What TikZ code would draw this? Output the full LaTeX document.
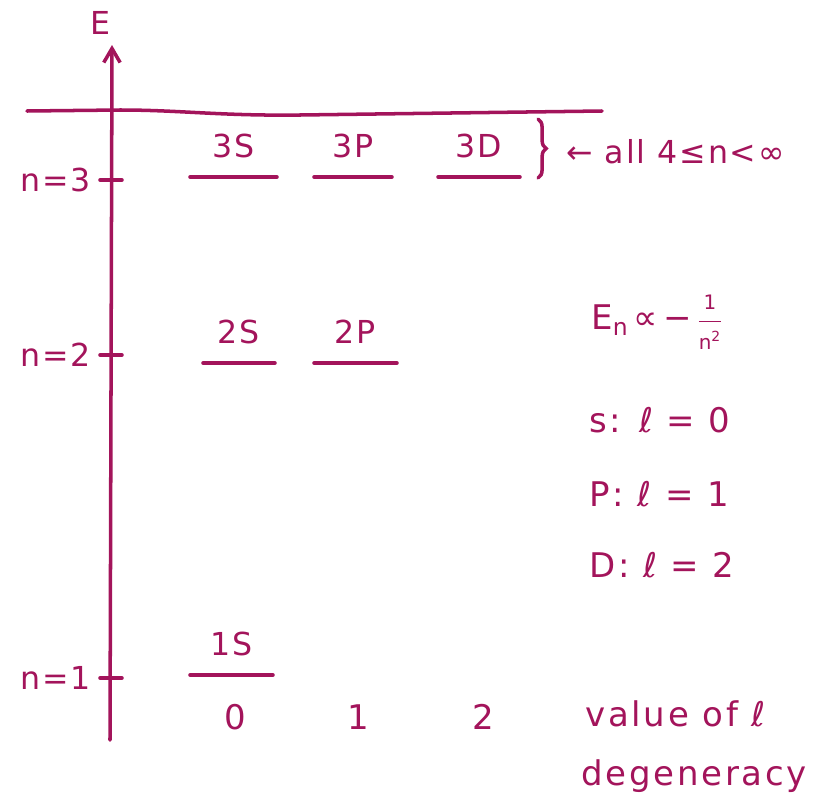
\documentclass[tikz,border=0pt]{standalone}
\usepackage{fontspec}
\usepackage{amsmath}
\setmainfont{DejaVu Sans}
\usetikzlibrary{arrows.meta,decorations.pathreplacing}
\begin{document}
\begin{tikzpicture}[x=0.03cm,y=-0.03cm,font=\fontsize{27}{31}\selectfont\addfontfeature{LetterSpace=6}]
\definecolor{ink}{HTML}{A3145B}
\tikzset{pen/.style={ink,line width=3pt,line cap=round},lab/.style={text=ink,inner sep=1pt},big/.style={lab,font=\fontsize{29}{33}\selectfont\addfontfeature{LetterSpace=8}}}
\useasboundingbox (0,0) rectangle (815,809);
\coordinate (axbot) at (110,740);\coordinate (axtop) at (112,45);\draw[pen,-{Straight Barb[length=12pt,width=14pt]}] (axbot)--(axtop);\node[lab] (elab) at (100,23){E};
\coordinate (ceilL) at (27,111);\coordinate (ceilR) at (602,111);\draw[pen] (ceilL)--(120,110) .. controls (180,110) and (220,116) .. (300,115)--(ceilR);
\foreach \n/\y in {3/180,2/355,1/678}{\draw[pen] (100,\y)--(122,\y);\node[lab,anchor=east] (n\n) at (92,\y){n=\n};}
\foreach \nm/\xa/\xb/\y in {3S/190/277/177,3P/314/392/177,3D/438/520/177,2S/203/275/363,2P/314/397/363,1S/190/273/675}{\draw[pen] (\xa,\y)--(\xb,\y);\node[lab,anchor=south] (l\nm) at ({(\xa+\xb)/2},{\y-18}){\nm};}
\draw[pen,decorate,decoration={brace,amplitude=7pt}] (538,119)--(538,178);\node[lab,anchor=west] (allnote) at (565,152){← all 4≤n<∞};
\node[big,anchor=west] (enlaw) at (590,322){E\raisebox{-0.35ex}{\fontsize{20}{20}\selectfont n}\,∝\,−\,$\dfrac{\textnormal{\fontsize{17}{17}\selectfont 1}}{\textnormal{\fontsize{17}{17}\selectfont n\textsuperscript{2}}}$};
\foreach \nm/\l/\y in {s/0/420,P/1/494,D/2/565}{\node[big,anchor=west] (q\nm) at (588,\y){\nm: ℓ = \l};}
\foreach \l/\x in {0/235,1/358,2/483}{\node[big] (v\l) at (\x,717){\l};}
\node[big,anchor=west] (vlab) at (584,714){value of ℓ};\node[big,anchor=west] (deglab) at (580,776){degeneracy};
\end{tikzpicture}
\end{document}
